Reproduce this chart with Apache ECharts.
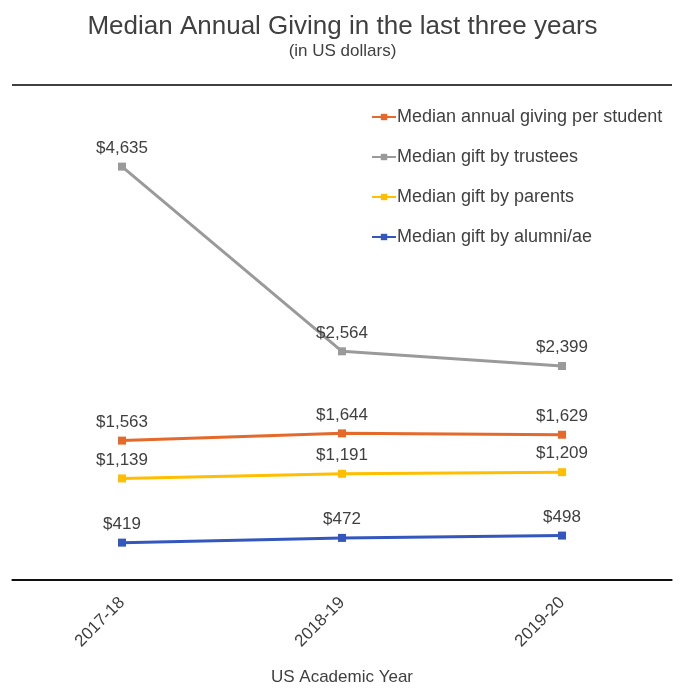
<!DOCTYPE html>
<html>
<head>
<meta charset="utf-8">
<script src="https://cdn.jsdelivr.net/npm/echarts@6/dist/echarts.min.js"></script>
<style>
  html, body { margin: 0; padding: 0; background: #fff; }
  #chart { width: 685px; height: 691px; }
</style>
</head>
<body>
<div id="chart"></div>
<script>
const years = ["2017-18", "2018-19", "2019-20"];
const perStudent = [1563, 1644, 1629];
const trustees = [4635, 2564, 2399];
const parents = [1139, 1191, 1209];
const alumni = [419, 472, 498];

const fmt = (p) => "$" + p.value.toLocaleString("en-US");

function mkSeries(name, data, color) {
  return {
    name: name,
    type: "line",
    data: data,
    symbol: "rect",
    symbolSize: 8,
    lineStyle: { width: 3, color: color },
    itemStyle: { color: color },
    label: {
      show: true,
      position: "top",
      distance: 6,
      formatter: fmt,
      color: "#404040",
      fontSize: 17,
      fontFamily: "Liberation Sans"
    }
  };
}

const chart = echarts.init(document.getElementById("chart"));
chart.setOption({
  animation: false,
  textStyle: { fontFamily: "Liberation Sans" },
  title: {
    text: "Median Annual Giving in the last three years",
    subtext: "(in US dollars)",
    left: "center",
    top: 9,
    itemGap: 3,
    textStyle: { fontSize: 26, fontWeight: "normal", color: "#404040" },
    subtextStyle: { fontSize: 17, color: "#404040" }
  },
  legend: {
    orient: "vertical",
    left: 366,
    top: 103,
    itemGap: 22,
    itemWidth: 24,
    itemHeight: 8,
    textStyle: { fontSize: 18, color: "#404040", padding: [0, 0, 0, -4] },
    data: [
      "Median annual giving per student",
      "Median gift by trustees",
      "Median gift by parents",
      "Median gift by alumni/ae"
    ]
  },
  grid: { left: 12, right: 13, top: 85, bottom: 105, containLabel: false },
  xAxis: {
    type: "category",
    data: years,
    boundaryGap: true,
    axisLine: { lineStyle: { color: "#000", width: 1.5 } },
    axisTick: { show: false },
    axisLabel: { rotate: 45, fontSize: 17, color: "#404040", margin: 20 },
    name: "US Academic Year",
    nameLocation: "middle",
    nameGap: 89,
    nameTextStyle: { fontSize: 17, color: "#404040" }
  },
  yAxis: {
    type: "value",
    min: 0,
    max: 5550,
    interval: 5550,
    axisLine: { show: false },
    axisTick: { show: false },
    axisLabel: { show: false },
    splitLine: { show: true, lineStyle: { color: "#000", width: 1.5 } }
  },
  series: [
    mkSeries("Median annual giving per student", perStudent, "#E5692A"),
    mkSeries("Median gift by trustees", trustees, "#9A9A9A"),
    mkSeries("Median gift by parents", parents, "#FFBF00"),
    mkSeries("Median gift by alumni/ae", alumni, "#3457BE")
  ]
});
</script>
</body>
</html>
